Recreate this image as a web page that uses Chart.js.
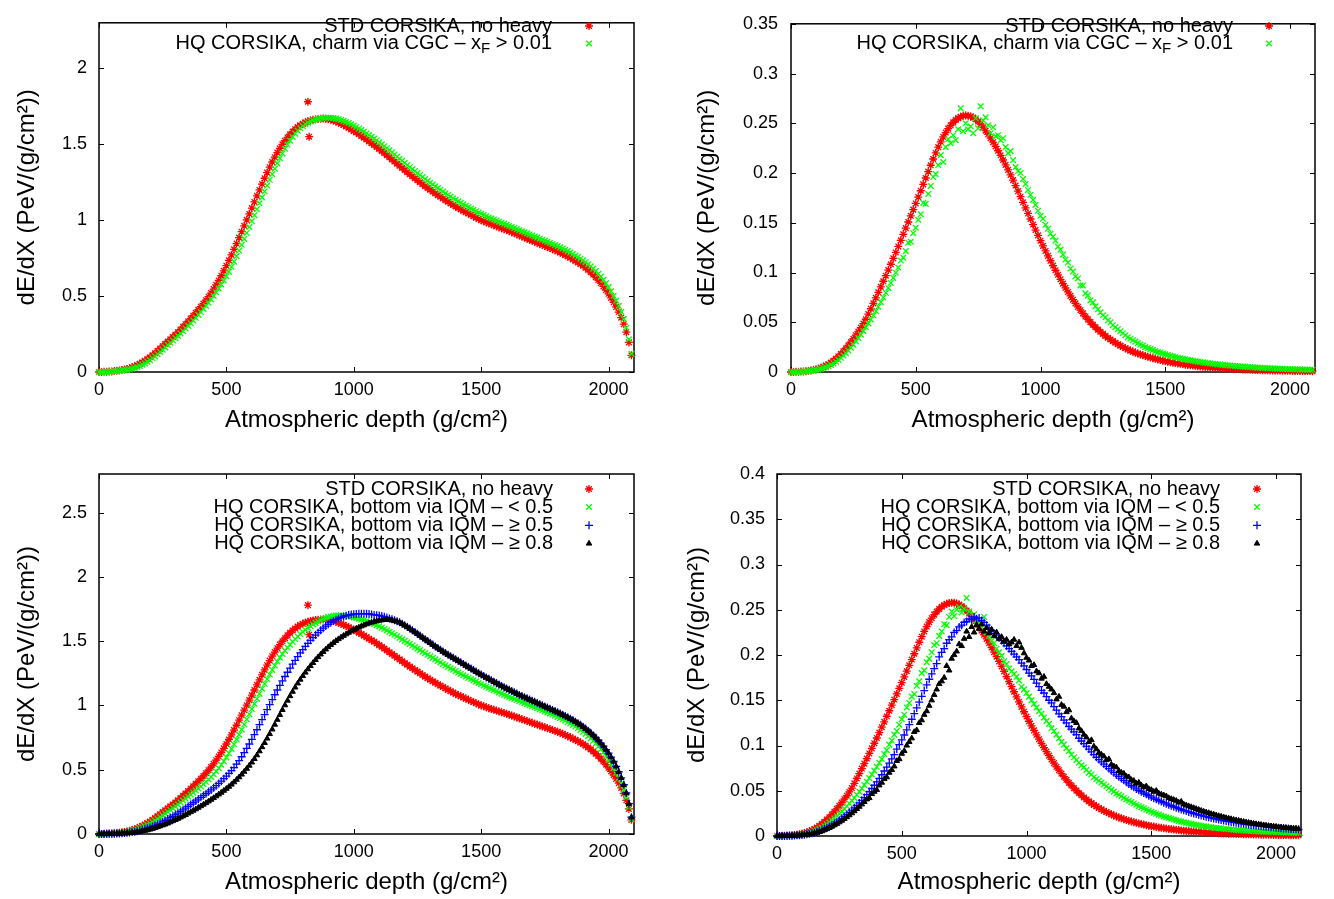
<!DOCTYPE html>
<html><head><meta charset="utf-8">
<script src="https://cdn.jsdelivr.net/npm/chart.js@4.4.1/dist/chart.umd.min.js"></script>
<style>
html,body{margin:0;padding:0;background:#fff;}
#wrap{position:relative;width:1334px;height:899px;overflow:hidden;}
.pane{position:absolute;}
</style></head><body>
<div id="wrap">
<div class="pane" style="left:0;top:0;width:667px;height:449px"><canvas id="c1"></canvas></div>
<div class="pane" style="left:667px;top:0;width:667px;height:449px"><canvas id="c2"></canvas></div>
<div class="pane" style="left:0;top:449px;width:667px;height:450px"><canvas id="c3"></canvas></div>
<div class="pane" style="left:667px;top:449px;width:667px;height:450px"><canvas id="c4"></canvas></div>
</div>
<script>
// ---------- DATA ----------
const depth = [
0,10,20,30,40,50,60,70,80,90,
100,110,120,130,140,150,160,170,180,190,
200,210,220,230,240,250,260,270,280,290,
300,310,320,330,340,350,360,370,380,390,
400,410,420,430,440,450,460,470,480,490,
500,510,520,530,540,550,560,570,580,590,
600,610,620,630,640,650,660,670,680,690,
700,710,720,730,740,750,760,770,780,790,
800,810,820,830,840,850,860,870,880,890,
900,910,920,930,940,950,960,970,980,990,
1000,1010,1020,1030,1040,1050,1060,1070,1080,1090,
1100,1110,1120,1130,1140,1150,1160,1170,1180,1190,
1200,1210,1220,1230,1240,1250,1260,1270,1280,1290,
1300,1310,1320,1330,1340,1350,1360,1370,1380,1390,
1400,1410,1420,1430,1440,1450,1460,1470,1480,1490,
1500,1510,1520,1530,1540,1550,1560,1570,1580,1590,
1600,1610,1620,1630,1640,1650,1660,1670,1680,1690,
1700,1710,1720,1730,1740,1750,1760,1770,1780,1790,
1800,1810,1820,1830,1840,1850,1860,1870,1880,1890,
1900,1910,1920,1930,1940,1950,1960,1970,1980,1990,
2000,2010,2020,2030,2040,2050,2060,2070,2080,2090];

// tick values
const xTickVals = [0, 500, 1000, 1500, 2000];
const yTicksTL = [0, 0.5, 1, 1.5, 2];
const yTicksTR = [0, 0.05, 0.1, 0.15, 0.2, 0.25, 0.3, 0.35];
const yTicksBL = [0, 0.5, 1, 1.5, 2, 2.5];
const yTicksBR = [0, 0.05, 0.1, 0.15, 0.2, 0.25, 0.3, 0.35, 0.4];

// STD CORSIKA (left column panels)
const stdA = [
0.000,0.000,0.001,0.002,0.003,0.004,0.006,0.008,0.010,0.013,
0.016,0.020,0.025,0.031,0.038,0.045,0.054,0.063,0.074,0.085,
0.097,0.110,0.124,0.139,0.154,0.170,0.185,0.200,0.215,0.230,
0.245,0.262,0.279,0.297,0.315,0.333,0.352,0.371,0.390,0.410,
0.430,0.451,0.473,0.496,0.520,0.546,0.574,0.603,0.634,0.666,
0.700,0.735,0.771,0.808,0.846,0.885,0.924,0.963,1.002,1.041,
1.080,1.120,1.160,1.199,1.238,1.276,1.313,1.349,1.383,1.415,
1.445,1.473,1.499,1.523,1.545,1.565,1.583,1.599,1.613,1.625,
1.635,1.644,1.651,1.657,1.661,1.664,1.666,1.668,1.669,1.668,
1.665,1.661,1.656,1.650,1.643,1.635,1.627,1.618,1.608,1.598,
1.588,1.577,1.566,1.555,1.543,1.531,1.519,1.507,1.495,1.482,
1.469,1.456,1.442,1.428,1.414,1.400,1.386,1.372,1.358,1.344,
1.330,1.316,1.302,1.289,1.276,1.263,1.250,1.237,1.224,1.212,
1.200,1.188,1.176,1.165,1.154,1.143,1.132,1.121,1.110,1.100,
1.090,1.080,1.071,1.062,1.053,1.044,1.035,1.026,1.017,1.008,
1.000,0.993,0.986,0.979,0.973,0.966,0.960,0.953,0.947,0.941,
0.935,0.928,0.921,0.914,0.907,0.900,0.893,0.886,0.879,0.872,
0.865,0.858,0.851,0.844,0.837,0.830,0.823,0.816,0.809,0.802,
0.795,0.787,0.779,0.770,0.761,0.752,0.742,0.732,0.722,0.711,
0.700,0.687,0.673,0.658,0.642,0.625,0.606,0.586,0.564,0.540,
0.515,0.488,0.459,0.428,0.395,0.358,0.315,0.262,0.195,0.110];
const stdAOutX = [820, 825];
const stdAOutY = [1.78, 1.55];

// HQ CORSIKA, charm via CGC (top-left)
const cgcA = [
0.000,0.000,0.001,0.001,0.002,0.003,0.004,0.005,0.007,0.009,
0.011,0.014,0.018,0.022,0.027,0.033,0.040,0.048,0.057,0.067,
0.078,0.090,0.103,0.117,0.132,0.147,0.162,0.178,0.193,0.208,
0.223,0.238,0.254,0.270,0.287,0.304,0.321,0.339,0.357,0.376,
0.395,0.415,0.435,0.456,0.478,0.501,0.525,0.550,0.576,0.603,
0.631,0.661,0.693,0.727,0.763,0.800,0.838,0.877,0.916,0.955,
0.994,1.033,1.072,1.111,1.150,1.189,1.228,1.266,1.303,1.339,
1.374,1.408,1.440,1.470,1.498,1.524,1.548,1.570,1.589,1.606,
1.620,1.632,1.642,1.650,1.657,1.663,1.667,1.671,1.673,1.675,
1.675,1.674,1.672,1.669,1.665,1.660,1.654,1.647,1.640,1.632,
1.623,1.614,1.604,1.594,1.583,1.572,1.561,1.549,1.537,1.525,
1.513,1.500,1.487,1.474,1.461,1.447,1.433,1.419,1.405,1.391,
1.377,1.363,1.349,1.336,1.323,1.310,1.297,1.284,1.271,1.259,
1.247,1.235,1.223,1.211,1.199,1.188,1.177,1.166,1.155,1.144,
1.134,1.124,1.114,1.104,1.095,1.086,1.077,1.068,1.059,1.050,
1.042,1.034,1.026,1.018,1.011,1.004,0.997,0.990,0.983,0.976,
0.969,0.962,0.955,0.948,0.941,0.934,0.927,0.920,0.913,0.906,
0.899,0.892,0.885,0.878,0.871,0.864,0.857,0.850,0.843,0.836,
0.829,0.821,0.813,0.805,0.796,0.787,0.777,0.767,0.757,0.746,
0.735,0.723,0.710,0.696,0.681,0.665,0.647,0.628,0.607,0.584,
0.559,0.532,0.502,0.470,0.435,0.396,0.350,0.292,0.215,0.120];

// HQ CORSIKA, bottom via IQM (bottom-left)
const iqmA1 = [
0.000,0.000,0.001,0.001,0.002,0.003,0.004,0.005,0.007,0.009,
0.012,0.015,0.019,0.024,0.029,0.035,0.043,0.051,0.060,0.070,
0.080,0.092,0.104,0.117,0.131,0.145,0.159,0.173,0.187,0.201,
0.215,0.230,0.245,0.260,0.275,0.290,0.306,0.322,0.338,0.354,
0.370,0.387,0.405,0.424,0.444,0.465,0.488,0.512,0.538,0.566,
0.596,0.628,0.662,0.698,0.735,0.773,0.812,0.852,0.892,0.932,
0.972,1.012,1.052,1.091,1.130,1.168,1.205,1.241,1.276,1.310,
1.342,1.372,1.400,1.426,1.450,1.473,1.495,1.516,1.536,1.555,
1.572,1.588,1.603,1.617,1.630,1.642,1.653,1.663,1.672,1.680,
1.687,1.692,1.696,1.699,1.700,1.700,1.699,1.697,1.694,1.690,
1.685,1.680,1.675,1.669,1.663,1.656,1.649,1.641,1.633,1.624,
1.615,1.605,1.595,1.584,1.573,1.562,1.550,1.538,1.526,1.514,
1.502,1.490,1.478,1.466,1.454,1.442,1.430,1.418,1.406,1.394,
1.382,1.370,1.358,1.346,1.334,1.322,1.311,1.300,1.289,1.278,
1.267,1.256,1.245,1.235,1.225,1.215,1.205,1.195,1.185,1.175,
1.165,1.155,1.146,1.137,1.128,1.119,1.110,1.101,1.092,1.083,
1.074,1.066,1.058,1.050,1.042,1.034,1.026,1.018,1.010,1.002,
0.994,0.986,0.978,0.970,0.962,0.954,0.946,0.938,0.929,0.920,
0.911,0.902,0.892,0.882,0.871,0.860,0.848,0.836,0.823,0.809,
0.794,0.778,0.761,0.743,0.724,0.704,0.682,0.659,0.634,0.607,
0.578,0.547,0.513,0.476,0.436,0.392,0.343,0.285,0.210,0.115];
const iqmA2 = [
0.000,0.000,0.000,0.001,0.001,0.002,0.002,0.003,0.004,0.006,
0.008,0.010,0.012,0.015,0.018,0.022,0.027,0.032,0.038,0.044,
0.051,0.059,0.067,0.076,0.085,0.095,0.105,0.116,0.127,0.138,
0.150,0.162,0.175,0.188,0.201,0.215,0.229,0.243,0.257,0.271,
0.285,0.299,0.313,0.328,0.343,0.359,0.376,0.393,0.411,0.430,
0.450,0.471,0.493,0.517,0.543,0.571,0.601,0.633,0.666,0.700,
0.736,0.773,0.811,0.850,0.889,0.928,0.967,1.006,1.045,1.083,
1.120,1.156,1.191,1.225,1.258,1.290,1.321,1.351,1.380,1.408,
1.434,1.459,1.483,1.506,1.527,1.547,1.566,1.584,1.601,1.617,
1.631,1.644,1.656,1.667,1.677,1.685,1.692,1.698,1.703,1.707,
1.710,1.712,1.713,1.714,1.714,1.713,1.711,1.708,1.704,1.702,
1.700,1.695,1.690,1.684,1.677,1.670,1.662,1.654,1.646,1.635,
1.623,1.611,1.598,1.585,1.571,1.557,1.543,1.529,1.515,1.501,
1.487,1.473,1.459,1.446,1.433,1.420,1.407,1.395,1.383,1.371,
1.359,1.347,1.335,1.323,1.311,1.299,1.287,1.275,1.263,1.251,
1.240,1.229,1.218,1.207,1.196,1.185,1.174,1.163,1.152,1.142,
1.132,1.122,1.112,1.102,1.092,1.082,1.073,1.064,1.055,1.046,
1.037,1.028,1.019,1.010,1.001,0.992,0.983,0.974,0.965,0.956,
0.947,0.938,0.928,0.918,0.908,0.897,0.886,0.874,0.862,0.849,
0.835,0.820,0.804,0.787,0.769,0.750,0.729,0.707,0.683,0.657,
0.629,0.598,0.564,0.526,0.484,0.437,0.383,0.319,0.236,0.131];
const iqmA3 = [
0.000,0.000,0.000,0.000,0.001,0.001,0.001,0.002,0.003,0.004,
0.005,0.006,0.008,0.010,0.012,0.015,0.018,0.022,0.026,0.030,
0.035,0.041,0.047,0.054,0.061,0.068,0.075,0.083,0.092,0.101,
0.110,0.119,0.129,0.139,0.149,0.160,0.171,0.182,0.193,0.205,
0.217,0.229,0.241,0.254,0.267,0.280,0.294,0.308,0.322,0.337,
0.352,0.368,0.385,0.403,0.422,0.442,0.463,0.485,0.508,0.532,
0.557,0.584,0.613,0.644,0.676,0.709,0.743,0.778,0.814,0.851,
0.889,0.927,0.965,1.002,1.038,1.073,1.107,1.140,1.172,1.201,
1.229,1.256,1.282,1.307,1.331,1.354,1.376,1.397,1.417,1.436,
1.454,1.471,1.487,1.502,1.516,1.529,1.542,1.554,1.566,1.577,
1.588,1.598,1.607,1.616,1.624,1.632,1.639,1.645,1.651,1.656,
1.660,1.663,1.665,1.666,1.665,1.662,1.658,1.652,1.645,1.634,
1.622,1.610,1.597,1.584,1.570,1.556,1.542,1.528,1.514,1.500,
1.486,1.472,1.458,1.445,1.432,1.419,1.406,1.394,1.382,1.370,
1.358,1.346,1.334,1.322,1.310,1.298,1.286,1.274,1.262,1.250,
1.239,1.228,1.217,1.206,1.195,1.184,1.173,1.162,1.151,1.141,
1.131,1.121,1.111,1.101,1.091,1.081,1.072,1.063,1.054,1.045,
1.036,1.027,1.018,1.009,1.000,0.991,0.982,0.973,0.964,0.955,
0.946,0.937,0.927,0.917,0.907,0.896,0.885,0.873,0.861,0.848,
0.834,0.819,0.803,0.786,0.768,0.749,0.728,0.706,0.682,0.656,
0.628,0.597,0.563,0.525,0.483,0.436,0.382,0.318,0.235,0.130];

// STD CORSIKA (right column panels)
const stdB = [
0.0000,0.0001,0.0002,0.0003,0.0004,0.0006,0.0008,0.0011,0.0015,0.0020,
0.0026,0.0033,0.0042,0.0052,0.0064,0.0078,0.0094,0.0112,0.0133,0.0156,
0.0181,0.0208,0.0237,0.0268,0.0300,0.0334,0.0370,0.0407,0.0445,0.0487,
0.0530,0.0582,0.0636,0.0690,0.0745,0.0800,0.0856,0.0912,0.0968,0.1025,
0.1083,0.1142,0.1202,0.1262,0.1323,0.1384,0.1446,0.1508,0.1570,0.1632,
0.1694,0.1758,0.1822,0.1886,0.1950,0.2014,0.2078,0.2141,0.2202,0.2260,
0.2314,0.2363,0.2407,0.2446,0.2480,0.2509,0.2533,0.2552,0.2566,0.2575,
0.2578,0.2576,0.2569,0.2557,0.2540,0.2518,0.2491,0.2460,0.2426,0.2389,
0.2350,0.2310,0.2268,0.2224,0.2178,0.2131,0.2082,0.2032,0.1981,0.1929,
0.1874,0.1818,0.1762,0.1706,0.1650,0.1594,0.1538,0.1482,0.1427,0.1373,
0.1320,0.1268,0.1217,0.1167,0.1118,0.1070,0.1023,0.0977,0.0932,0.0888,
0.0846,0.0805,0.0765,0.0727,0.0690,0.0655,0.0621,0.0589,0.0558,0.0529,
0.0501,0.0475,0.0450,0.0426,0.0404,0.0383,0.0363,0.0344,0.0327,0.0310,
0.0294,0.0279,0.0265,0.0252,0.0239,0.0227,0.0216,0.0205,0.0195,0.0186,
0.0177,0.0169,0.0161,0.0153,0.0146,0.0139,0.0132,0.0126,0.0120,0.0114,
0.0109,0.0104,0.0099,0.0094,0.0090,0.0086,0.0082,0.0078,0.0074,0.0071,
0.0068,0.0065,0.0062,0.0059,0.0056,0.0054,0.0051,0.0049,0.0047,0.0045,
0.0043,0.0041,0.0039,0.0037,0.0036,0.0034,0.0033,0.0031,0.0030,0.0029,
0.0028,0.0026,0.0025,0.0024,0.0023,0.0022,0.0021,0.0020,0.0019,0.0018,
0.0018,0.0017,0.0016,0.0016,0.0015,0.0014,0.0014,0.0013,0.0013,0.0012,
0.0012,0.0011,0.0011,0.0010,0.0010,0.0010,0.0009,0.0009,0.0009,0.0008];

// HQ CORSIKA, charm via CGC (top-right)
const cgcB = [
0.0000,0.0001,0.0001,0.0002,0.0003,0.0004,0.0006,0.0008,0.0011,0.0014,
0.0019,0.0024,0.0031,0.0039,0.0048,0.0059,0.0072,0.0086,0.0103,0.0122,
0.0143,0.0165,0.0190,0.0216,0.0245,0.0275,0.0307,0.0341,0.0376,0.0412,
0.0449,0.0488,0.0528,0.0570,0.0612,0.0656,0.0702,0.0748,0.0796,0.0845,
0.0895,0.0946,0.0998,0.1050,0.1120,0.1150,0.1215,0.1300,0.1310,0.1395,
0.1450,0.1530,0.1585,0.1700,0.1690,0.1790,0.1870,0.1960,0.1990,0.2080,
0.2180,0.2110,0.2260,0.2340,0.2300,0.2380,0.2330,0.2440,0.2650,0.2420,
0.2500,0.2440,0.2470,0.2400,0.2550,0.2450,0.2670,0.2530,0.2560,0.2480,
0.2400,0.2460,0.2370,0.2380,0.2330,0.2350,0.2260,0.2200,0.2220,0.2130,
0.2060,0.2020,0.2000,0.1940,0.1890,0.1830,0.1780,0.1730,0.1680,0.1620,
0.1570,0.1540,0.1480,0.1440,0.1390,0.1360,0.1320,0.1260,0.1230,0.1180,
0.1130,0.1100,0.1040,0.1010,0.0960,0.0940,0.0870,0.0870,0.0790,0.0770,
0.0720,0.0700,0.0660,0.0630,0.0600,0.0570,0.0550,0.0520,0.0500,0.0470,
0.0450,0.0430,0.0410,0.0390,0.0370,0.0350,0.0335,0.0320,0.0305,0.0290,
0.0275,0.0265,0.0250,0.0240,0.0230,0.0220,0.0210,0.0200,0.0195,0.0185,
0.0178,0.0170,0.0163,0.0156,0.0150,0.0144,0.0138,0.0133,0.0127,0.0122,
0.0118,0.0113,0.0109,0.0104,0.0100,0.0097,0.0093,0.0090,0.0086,0.0083,
0.0080,0.0077,0.0075,0.0072,0.0069,0.0067,0.0065,0.0062,0.0060,0.0058,
0.0056,0.0054,0.0052,0.0051,0.0049,0.0047,0.0046,0.0044,0.0043,0.0041,
0.0040,0.0039,0.0038,0.0036,0.0035,0.0034,0.0033,0.0032,0.0031,0.0030,
0.0029,0.0028,0.0028,0.0027,0.0026,0.0025,0.0025,0.0024,0.0023,0.0023];

// HQ CORSIKA, bottom via IQM (bottom-right)
const iqmB1 = [
0.0000,0.0001,0.0001,0.0002,0.0003,0.0004,0.0005,0.0007,0.0009,0.0012,
0.0016,0.0021,0.0027,0.0034,0.0042,0.0052,0.0063,0.0076,0.0091,0.0108,
0.0127,0.0148,0.0170,0.0194,0.0219,0.0245,0.0272,0.0300,0.0329,0.0359,
0.0390,0.0420,0.0455,0.0490,0.0525,0.0562,0.0600,0.0640,0.0680,0.0722,
0.0765,0.0810,0.0850,0.0905,0.0950,0.1010,0.1055,0.1120,0.1160,0.1230,
0.1290,0.1340,0.1420,0.1470,0.1540,0.1570,0.1660,0.1710,0.1800,0.1830,
0.1920,0.1960,0.2030,0.2110,0.2130,0.2210,0.2260,0.2340,0.2330,0.2420,
0.2480,0.2430,0.2500,0.2530,0.2470,0.2510,0.2630,0.2480,0.2420,0.2450,
0.2380,0.2360,0.2310,0.2420,0.2250,0.2210,0.2160,0.2130,0.2070,0.2030,
0.1990,0.1930,0.1900,0.1850,0.1820,0.1790,0.1760,0.1720,0.1650,0.1620,
0.1580,0.1540,0.1500,0.1460,0.1420,0.1380,0.1350,0.1310,0.1270,0.1240,
0.1190,0.1160,0.1120,0.1080,0.1040,0.1010,0.0970,0.0940,0.0900,0.0870,
0.0840,0.0810,0.0780,0.0760,0.0730,0.0700,0.0680,0.0650,0.0630,0.0610,
0.0590,0.0570,0.0550,0.0530,0.0510,0.0490,0.0470,0.0455,0.0440,0.0420,
0.0405,0.0390,0.0375,0.0360,0.0345,0.0330,0.0318,0.0305,0.0292,0.0280,
0.0268,0.0257,0.0246,0.0236,0.0226,0.0216,0.0207,0.0198,0.0190,0.0182,
0.0174,0.0166,0.0159,0.0152,0.0146,0.0140,0.0134,0.0128,0.0123,0.0118,
0.0113,0.0108,0.0104,0.0100,0.0096,0.0092,0.0089,0.0086,0.0083,0.0080,
0.0077,0.0074,0.0072,0.0069,0.0067,0.0065,0.0063,0.0061,0.0059,0.0057,
0.0055,0.0054,0.0052,0.0051,0.0049,0.0048,0.0047,0.0046,0.0045,0.0044,
0.0043,0.0042,0.0041,0.0040,0.0039,0.0038,0.0038,0.0037,0.0036,0.0036];
const iqmB2 = [
0.0000,0.0000,0.0001,0.0001,0.0002,0.0003,0.0004,0.0005,0.0007,0.0009,
0.0012,0.0015,0.0019,0.0024,0.0030,0.0037,0.0045,0.0054,0.0065,0.0077,
0.0090,0.0105,0.0121,0.0138,0.0156,0.0175,0.0195,0.0216,0.0238,0.0261,
0.0285,0.0310,0.0337,0.0365,0.0394,0.0425,0.0457,0.0490,0.0525,0.0561,
0.0598,0.0637,0.0677,0.0718,0.0762,0.0806,0.0852,0.0900,0.0960,0.1010,
0.1062,0.1116,0.1172,0.1230,0.1290,0.1352,0.1415,0.1479,0.1543,0.1607,
0.1670,0.1732,0.1792,0.1850,0.1905,0.1980,0.2030,0.2070,0.2130,0.2170,
0.2200,0.2250,0.2270,0.2310,0.2330,0.2360,0.2370,0.2400,0.2390,0.2420,
0.2400,0.2410,0.2380,0.2360,0.2330,0.2300,0.2270,0.2240,0.2220,0.2190,
0.2160,0.2130,0.2100,0.2070,0.2040,0.2010,0.1980,0.1950,0.1910,0.1880,
0.1840,0.1800,0.1770,0.1730,0.1690,0.1650,0.1610,0.1580,0.1540,0.1500,
0.1470,0.1430,0.1390,0.1350,0.1320,0.1280,0.1250,0.1210,0.1180,0.1150,
0.1120,0.1080,0.1050,0.1020,0.0990,0.0960,0.0930,0.0900,0.0870,0.0845,
0.0820,0.0795,0.0770,0.0745,0.0720,0.0700,0.0675,0.0655,0.0635,0.0615,
0.0595,0.0575,0.0555,0.0540,0.0520,0.0505,0.0490,0.0475,0.0460,0.0445,
0.0430,0.0418,0.0405,0.0392,0.0380,0.0368,0.0356,0.0345,0.0334,0.0323,
0.0313,0.0303,0.0293,0.0284,0.0275,0.0266,0.0258,0.0250,0.0242,0.0234,
0.0227,0.0220,0.0213,0.0206,0.0200,0.0194,0.0188,0.0182,0.0176,0.0171,
0.0166,0.0161,0.0156,0.0151,0.0147,0.0142,0.0138,0.0134,0.0130,0.0126,
0.0122,0.0119,0.0115,0.0112,0.0109,0.0106,0.0103,0.0100,0.0097,0.0094,
0.0092,0.0089,0.0087,0.0084,0.0082,0.0080,0.0078,0.0076,0.0074,0.0072];
const iqmB3 = [
0.0000,0.0000,0.0000,0.0001,0.0001,0.0002,0.0003,0.0004,0.0005,0.0007,
0.0009,0.0012,0.0015,0.0019,0.0024,0.0030,0.0037,0.0045,0.0054,0.0065,
0.0077,0.0090,0.0104,0.0119,0.0135,0.0152,0.0170,0.0189,0.0209,0.0230,
0.0252,0.0275,0.0299,0.0324,0.0350,0.0377,0.0405,0.0420,0.0465,0.0490,
0.0510,0.0560,0.0590,0.0630,0.0650,0.0700,0.0730,0.0770,0.0830,0.0850,
0.0910,0.0940,0.1000,0.1040,0.1080,0.1150,0.1170,0.1250,0.1280,0.1340,
0.1380,0.1440,0.1500,0.1560,0.1620,0.1680,0.1710,0.1750,0.1880,0.1830,
0.1960,0.2000,0.2040,0.2120,0.2100,0.2180,0.2260,0.2200,0.2310,0.2250,
0.2330,0.2290,0.2340,0.2260,0.2300,0.2240,0.2280,0.2210,0.2250,0.2180,
0.2200,0.2150,0.2170,0.2120,0.2140,0.2170,0.2100,0.2140,0.2080,0.2020,
0.1970,0.1940,0.1880,0.1890,0.1820,0.1800,0.1740,0.1760,0.1680,0.1650,
0.1620,0.1580,0.1510,0.1540,0.1450,0.1430,0.1370,0.1390,0.1300,0.1270,
0.1250,0.1190,0.1160,0.1120,0.1090,0.1040,0.1060,0.0990,0.0960,0.0920,
0.0900,0.0880,0.0840,0.0850,0.0790,0.0770,0.0760,0.0720,0.0700,0.0690,
0.0660,0.0650,0.0620,0.0610,0.0580,0.0590,0.0560,0.0540,0.0550,0.0520,
0.0510,0.0490,0.0500,0.0470,0.0460,0.0450,0.0440,0.0420,0.0410,0.0400,
0.0390,0.0370,0.0380,0.0350,0.0340,0.0330,0.0320,0.0310,0.0300,0.0290,
0.0280,0.0270,0.0262,0.0255,0.0245,0.0238,0.0230,0.0222,0.0215,0.0208,
0.0200,0.0194,0.0188,0.0180,0.0175,0.0170,0.0163,0.0158,0.0152,0.0147,
0.0142,0.0137,0.0132,0.0128,0.0124,0.0120,0.0116,0.0112,0.0108,0.0105,
0.0102,0.0099,0.0096,0.0093,0.0090,0.0088,0.0085,0.0083,0.0080,0.0078];

const labelSTD = 'STD CORSIKA, no heavy';
const labelCGC = 'HQ CORSIKA, charm via CGC \u2013 x_{F} > 0.01';
const labelIQM1 = 'HQ CORSIKA, bottom via IQM \u2013 < 0.5';
const labelIQM2 = 'HQ CORSIKA, bottom via IQM \u2013 \u2265 0.5';
const labelIQM3 = 'HQ CORSIKA, bottom via IQM \u2013 \u2265 0.8';
const xTitle = 'Atmospheric depth (g/cm\u00B2)';
const yTitle = 'dE/dX (PeV/(g/cm\u00B2))';

// ---------- RENDERING ----------
const FONT = '"Liberation Sans", Arial, Helvetica, sans-serif';
const STY = {
  red:   {pointStyle:'star',     color:'#ff0000', r:4,   bw:1.3, order:4},
  green: {pointStyle:'crossRot', color:'#00ff00', r:4,   bw:1.3, order:3},
  blue:  {pointStyle:'cross',    color:'#0000ff', r:4,   bw:1.3, order:2},
  black: {pointStyle:'triangle', color:'#000000', r:3.2, bw:1,   order:1}
};
function pts(xs, ys, ox, oy) {
  const out = xs.map((x, i) => ({x: x, y: ys[i]}));
  if (ox) ox.forEach((x, i) => out.push({x: x, y: oy[i]}));
  return out;
}
function fmt(v) { return String(+(+v).toFixed(4)); }

function drawRich(ctx, text, xRight, y) {
  const parts = []; const re = /_\{([^}]*)\}/g; let last = 0, m;
  while ((m = re.exec(text))) {
    if (m.index > last) parts.push({t: text.slice(last, m.index)});
    parts.push({t: m[1], sub: true}); last = re.lastIndex;
  }
  if (last < text.length) parts.push({t: text.slice(last)});
  let w = 0;
  parts.forEach(p => { ctx.font = (p.sub ? '15px ' : '20px ') + FONT; p.w = ctx.measureText(p.t).width; w += p.w; });
  let x = xRight - w;
  ctx.textBaseline = 'middle'; ctx.textAlign = 'left'; ctx.fillStyle = '#000';
  parts.forEach(p => { ctx.font = (p.sub ? '15px ' : '20px ') + FONT; ctx.fillText(p.t, x, y + (p.sub ? 5 : 0)); x += p.w; });
}
function marker(ctx, st, x, y) {
  ctx.save();
  ctx.strokeStyle = st.color; ctx.fillStyle = st.color; ctx.lineWidth = st.bw;
  Chart.helpers.drawPoint(ctx, {pointStyle: st.pointStyle, radius: st.r, rotation: 0, borderWidth: st.bw}, x, y);
  ctx.restore();
}
function setTicks(vals) {
  return s => { s.ticks = vals.map(v => ({value: v})); };
}

function makePanel(p) {
  const datasets = p.series.map(s => {
    const st = STY[s.style];
    return {
      label: s.label, data: s.data, order: st.order, clip: false,
      pointStyle: st.pointStyle, pointRadius: st.r, pointBorderWidth: st.bw,
      borderColor: st.color, backgroundColor: st.color, showLine: false
    };
  });
  const frame = {
    id: 'frame_' + p.id,
    beforeDatasetsDraw(chart) {
      const {ctx, chartArea: a, scales: {x, y}} = chart;
      ctx.save(); ctx.strokeStyle = '#000'; ctx.lineWidth = 1;
      ctx.beginPath();
      x.ticks.forEach(t => {
        const px = Math.round(x.getPixelForValue(t.value)) + 0.5;
        ctx.moveTo(px, a.bottom); ctx.lineTo(px, a.bottom - 5);
        ctx.moveTo(px, a.top); ctx.lineTo(px, a.top + 5);
      });
      y.ticks.forEach(t => {
        const py = Math.round(y.getPixelForValue(t.value)) + 0.5;
        ctx.moveTo(a.left, py); ctx.lineTo(a.left + 5, py);
        ctx.moveTo(a.right, py); ctx.lineTo(a.right - 5, py);
      });
      ctx.stroke();
      ctx.lineWidth = 1.5;
      ctx.strokeRect(a.left, a.top, a.right - a.left, a.bottom - a.top);
      ctx.restore();
    },
    afterDraw(chart) {
      const ctx = chart.ctx;
      p.series.forEach((s, i) => {
        const y = p.leg.ys[i];
        drawRich(ctx, s.label, p.leg.tx, y);
        marker(ctx, STY[s.style], p.leg.mx, y);
      });
    }
  };
  return new Chart(document.getElementById(p.id), {
    type: 'scatter',
    data: {datasets},
    plugins: [frame],
    options: {
      responsive: true, maintainAspectRatio: false, animation: false, devicePixelRatio: 1,
      events: [],
      layout: {padding: {left: 0, top: p.top, right: p.right, bottom: 0}},
      plugins: {legend: {display: false}, tooltip: {enabled: false}},
      scales: {
        x: {
          type: 'linear', min: 0, max: 2100,
          afterBuildTicks: setTicks(xTickVals),
          ticks: {color: '#000', padding: 7, maxRotation: 0, autoSkip: false,
                  font: {family: FONT, size: 18}, callback: v => fmt(v)},
          grid: {display: false, drawTicks: false}, border: {display: false},
          title: {display: true, text: xTitle, color: '#000', font: {family: FONT, size: 24},
                  padding: {top: 0, bottom: p.xPad}},
          afterFit: s => { s.height = p.H; }
        },
        y: {
          type: 'linear', min: 0, max: p.ymax,
          afterBuildTicks: setTicks(p.yTicks),
          ticks: {color: '#000', padding: p.tickPad, autoSkip: false,
                  font: {family: FONT, size: 18}, callback: v => fmt(v)},
          grid: {display: false, drawTicks: false}, border: {display: false},
          title: {display: true, text: yTitle, color: '#000', font: {family: FONT, size: 24},
                  padding: {top: p.yPad, bottom: 0}},
          afterFit: s => { s.width = p.L; }
        }
      }
    }
  });
}

const panels = [
  {id: 'c1', ymax: 2.3, yTicks: yTicksTL, L: 99, top: 10, right: 33, H: 77, yPad: 12.6, xPad: 14.6, tickPad: 12,
   leg: {tx: 552, mx: 589, ys: [26, 43.5]},
   series: [{label: labelSTD, style: 'red', data: pts(depth, stdA, stdAOutX, stdAOutY)},
            {label: labelCGC, style: 'green', data: pts(depth, cgcA)}]},
  {id: 'c2', ymax: 0.35, yTicks: yTicksTR, L: 124, top: 10, right: 19, H: 77, yPad: 25.6, xPad: 14.6, tickPad: 13,
   leg: {tx: 566, mx: 602, ys: [26, 43.5]},
   series: [{label: labelSTD, style: 'red', data: pts(depth, stdB)},
            {label: labelCGC, style: 'green', data: pts(depth, cgcB)}]},
  {id: 'c3', ymax: 2.8, yTicks: yTicksBL, L: 99, top: 25, right: 33, H: 65, yPad: 12.6, xPad: 2.1, tickPad: 12,
   leg: {tx: 553, mx: 589, ys: [40, 58, 76.3, 94.5]},
   series: [{label: labelSTD, style: 'red', data: pts(depth, stdA, stdAOutX, stdAOutY)},
            {label: labelIQM1, style: 'green', data: pts(depth, iqmA1)},
            {label: labelIQM2, style: 'blue', data: pts(depth, iqmA2)},
            {label: labelIQM3, style: 'black', data: pts(depth, iqmA3)}]},
  {id: 'c4', ymax: 0.4, yTicks: yTicksBR, L: 110, top: 25, right: 33, H: 63, yPad: 16, xPad: 2.1, tickPad: 12,
   leg: {tx: 553, mx: 590, ys: [40, 58, 76.3, 94.5]},
   series: [{label: labelSTD, style: 'red', data: pts(depth, stdB)},
            {label: labelIQM1, style: 'green', data: pts(depth, iqmB1)},
            {label: labelIQM2, style: 'blue', data: pts(depth, iqmB2)},
            {label: labelIQM3, style: 'black', data: pts(depth, iqmB3)}]}
];
panels.forEach(makePanel);
</script>
</body></html>
